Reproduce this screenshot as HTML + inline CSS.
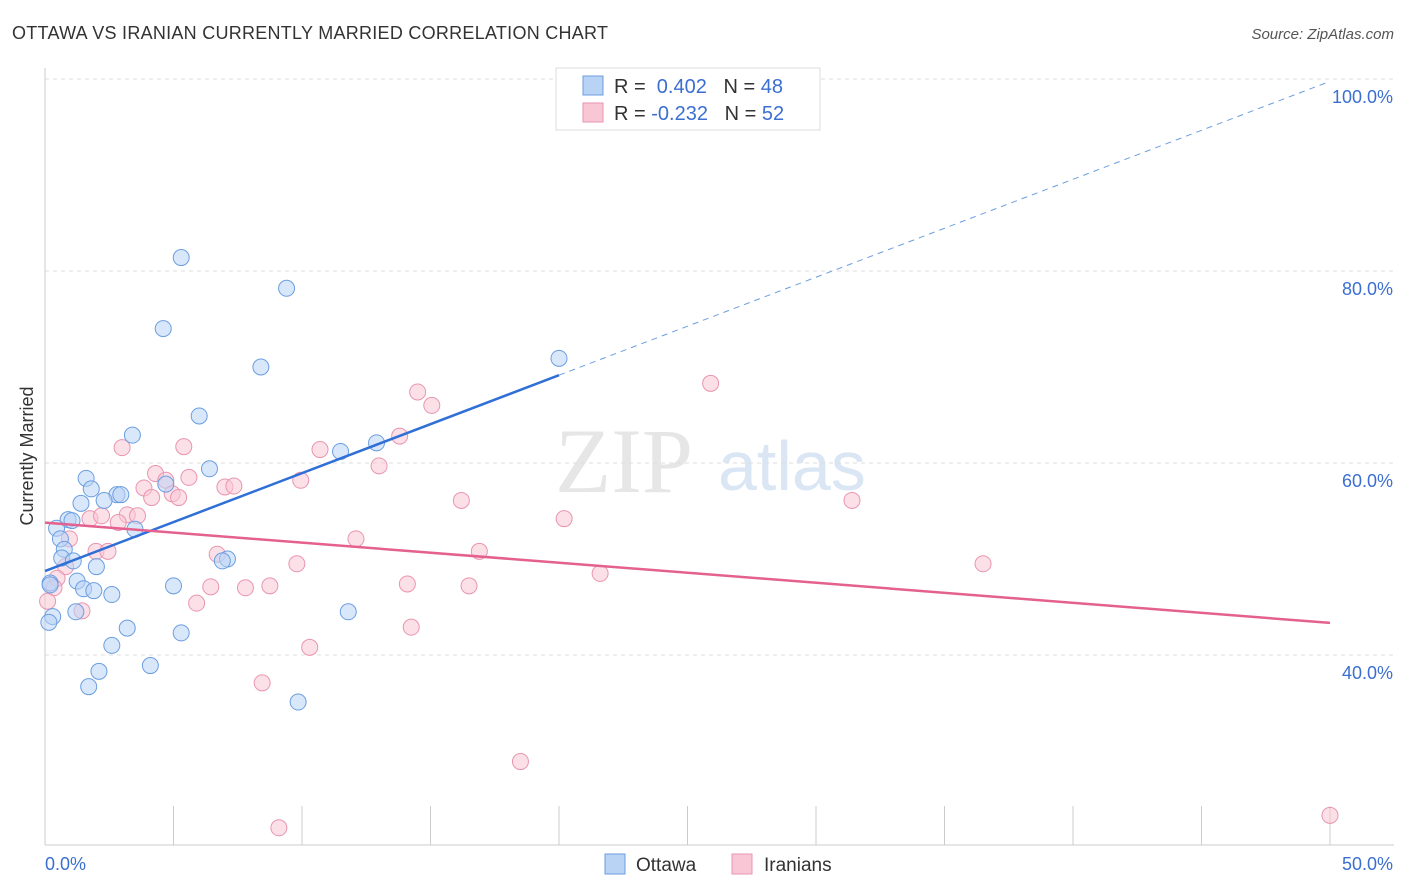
<!DOCTYPE html>
<html><head><meta charset="utf-8"><style>
body{margin:0;background:#fff;font-family:"Liberation Sans",sans-serif}
svg{display:block}
</style></head><body>
<svg id="c" width="1406" height="892" xmlns="http://www.w3.org/2000/svg">
<text x="12" y="39" font-size="18" fill="#333" textLength="596">OTTAWA VS IRANIAN CURRENTLY MARRIED CORRELATION CHART</text>
<text x="1394" y="39" font-size="15" fill="#555" text-anchor="end" font-style="italic">Source: ZipAtlas.com</text>
<text x="33" y="456" font-size="18" fill="#333" text-anchor="middle" transform="rotate(-90 33 456)">Currently Married</text>
<g><text x="555" y="492" font-size="92" fill="#e6e6e6" font-family="Liberation Serif,serif">ZIP</text><text x="718" y="490" font-size="70" fill="#dbe6f5">atlas</text></g>
<g id="grid"></g><g id="marks"></g>
<g>
<rect x="556" y="68" width="264" height="62" fill="#fff" stroke="#ddd"/>
<rect x="583" y="76" width="20" height="19" fill="#b9d3f5" stroke="#6b9ee0"/>
<rect x="583" y="103" width="20" height="19" fill="#f9c6d6" stroke="#e995b0"/>
<text x="614" y="93" font-size="20" fill="#333">R = <tspan fill="#3a6fd1">&#160;0.402</tspan>&#160;&#160;&#160;N = <tspan fill="#3a6fd1">48</tspan></text>
<text x="614" y="120" font-size="20" fill="#333">R = <tspan fill="#3a6fd1">-0.232</tspan>&#160;&#160;&#160;N = <tspan fill="#3a6fd1">52</tspan></text>
</g>
<g>
<rect x="605" y="854" width="20" height="20" fill="#b9d3f5" stroke="#6b9ee0"/><text x="636" y="871" font-size="19" fill="#333">Ottawa</text>
<rect x="732" y="854" width="20" height="20" fill="#f9c6d6" stroke="#e995b0"/><text x="764" y="871" font-size="19" fill="#333">Iranians</text>
</g>
</svg>
<script>
const xTicks=[0,5,10,15,20,25,30,35,40,45,50];
const yTicks=[40,60,80,100];
const blueX=[5.3,9.4,4.6,8.4,20.0,6.0,3.4,12.9,11.5,6.4,1.6,4.7,1.8,2.8,2.95,2.3,1.4,0.9,1.05,3.5,0.45,0.6,0.75,0.65,1.1,2.0,7.1,6.9,0.2,1.25,1.5,1.9,2.6,5.0,0.3,0.15,1.2,3.2,5.3,11.8,2.6,4.1,2.1,1.7,9.85,0.2];
const blueY=[81.4,78.2,74.0,70.0,70.9,64.9,62.9,62.1,61.2,59.4,58.4,57.8,57.3,56.7,56.7,56.1,55.8,54.1,54.0,53.1,53.2,52.1,51.0,50.1,49.8,49.2,50.0,49.8,47.5,47.7,46.9,46.7,46.3,47.2,44.0,43.4,44.5,42.8,42.3,44.5,41.0,38.9,38.3,36.7,35.1,47.3];
const pinkX=[3.0,5.4,14.5,15.05,25.9,13.8,10.7,13.0,4.3,4.7,5.6,9.95,3.85,4.95,5.2,7.0,7.35,4.15,16.2,31.4,20.2,1.75,2.2,3.2,3.6,2.85,0.95,12.1,6.7,1.985,2.45,16.9,9.8,0.8,16.5,8.75,21.6,36.5,0.47,0.35,6.45,7.8,14.1,5.9,1.44,14.25,10.3,8.45,18.5,9.1,50.0,0.1];
const pinkY=[61.6,61.7,67.4,66.0,68.3,62.8,61.4,59.7,58.9,58.2,58.5,58.2,57.4,56.8,56.4,57.5,57.6,56.4,56.1,56.1,54.2,54.2,54.5,54.6,54.5,53.8,52.1,52.1,50.5,50.8,50.8,50.8,49.5,49.2,47.2,47.2,48.5,49.5,48.0,47.0,47.1,47.0,47.4,45.4,44.6,42.9,40.8,37.1,28.9,22.0,23.3,45.6];
const sx=v=>45+v*25.7, sy=v=>79+(100-v)*9.6;
const NS="http://www.w3.org/2000/svg";
function mk(tag,at,par){const e=document.createElementNS(NS,tag);for(const k in at)e.setAttribute(k,at[k]);par.appendChild(e);return e;}
const g=document.getElementById('grid'), m=document.getElementById('marks');
mk('line',{x1:45,y1:68,x2:45,y2:845,stroke:'#ccc'},g);
mk('line',{x1:45,y1:845,x2:1394,y2:845,stroke:'#ccc'},g);
yTicks.forEach(t=>{const l=mk('line',{x1:45,y1:sy(t),x2:1394,y2:sy(t),stroke:'#ddd','stroke-dasharray':'4,4'},g);

const tx=mk('text',{x:1393,y:sy(t)+24,'font-size':18,fill:'#3a6fd1','text-anchor':'end'},g);tx.textContent=t.toFixed(1)+'%';
});
xTicks.forEach(t=>{const l=mk('line',{x1:sx(t),y1:806,x2:sx(t),y2:845,stroke:'#ccc'},g);
});
[[0,'0.0%',45,'start'],[50,'50.0%',1393,'end']].forEach(a=>{const tx=mk('text',{x:a[2],y:870,'font-size':18,fill:'#3a6fd1','text-anchor':a[3]},g);tx.textContent=a[1];
});
function pts(X,Y,f,s,name){X.forEach((x,i)=>{const c=mk('circle',{cx:sx(x),cy:sy(Y[i]),r:8,fill:f,'fill-opacity':0.55,stroke:s,'stroke-width':1},m);
});}
pts(pinkX,pinkY,'#f9c6d6','#e995b0','iranians-point');
pts(blueX,blueY,'#b9d3f5','#6b9ee0','ottawa-point');
function fit(X,Y){const n=X.length,mx=X.reduce((a,b)=>a+b)/n,my=Y.reduce((a,b)=>a+b)/n;let sxy=0,sxx=0;X.forEach((x,i)=>{sxy+=(x-mx)*(Y[i]-my);sxx+=(x-mx)**2});const b=sxy/sxx;return [my-b*mx,b];}
const [ba,bb]=fit(blueX,blueY),[pa,pb]=fit(pinkX,pinkY);
let l=mk('line',{x1:sx(0),y1:sy(ba),x2:sx(20),y2:sy(ba+bb*20),stroke:'#2f6fd6','stroke-width':2.5},m);

const xe=Math.min(50,(100-ba)/bb);
l=mk('line',{x1:sx(20),y1:sy(ba+bb*20),x2:sx(xe),y2:sy(ba+bb*xe),stroke:'#6b9ee0','stroke-width':1,'stroke-dasharray':'6,5'},m);

l=mk('line',{x1:sx(0),y1:sy(pa),x2:sx(50),y2:sy(pa+pb*50),stroke:'#e4608e','stroke-width':2.5},m);

</script>
</body></html>
